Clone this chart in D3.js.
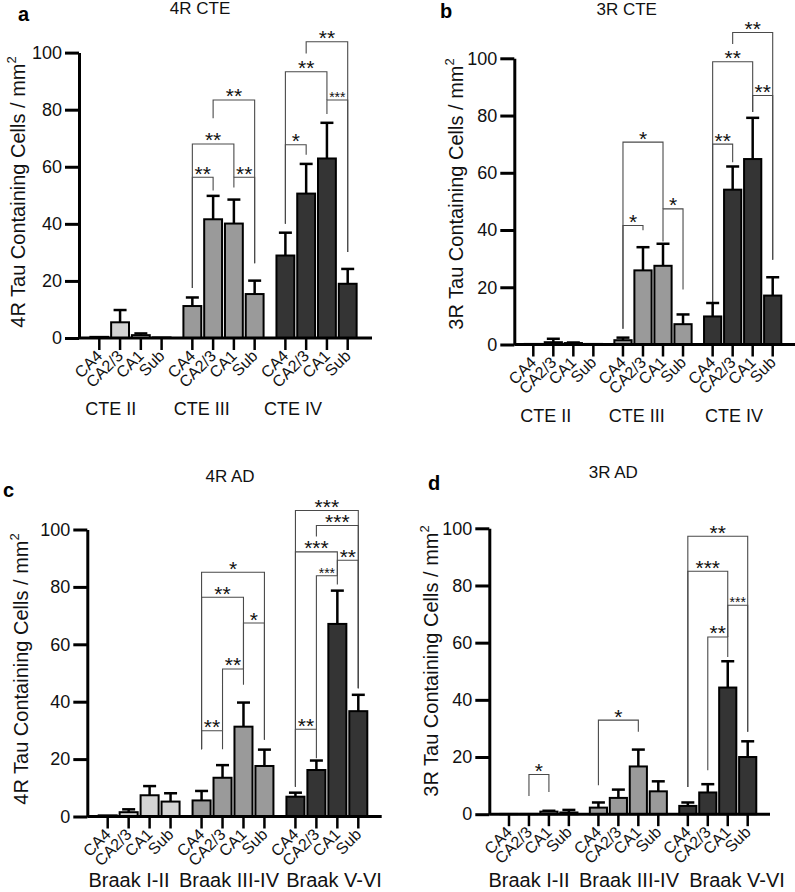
<!DOCTYPE html>
<html>
<head>
<meta charset="utf-8">
<script src="https://cdn.jsdelivr.net/npm/d3@7"></script>
<style>
  html, body { margin: 0; padding: 0; background: #fff; }
  svg { display: block; font-family: "Liberation Sans", Arial, Helvetica, sans-serif; }
</style>
</head>
<body>
<svg id="chart" width="795" height="892"></svg>
<script>
// ---------------- DATA ----------------
const regions = ["CA4", "CA2/3", "CA1", "Sub"];
const cteStages = ["CTE II", "CTE III", "CTE IV"];
const braakStages = ["Braak I-II", "Braak III-IV", "Braak V-VI"];
const yTicks = [0, 20, 40, 60, 80, 100];

// 4R CTE (mean, SEM) per stage x region
const cte4rMean = [[0.4, 5.5, 1.0, 0.2], [11.2, 41.6, 40.1, 15.4], [28.9, 50.6, 62.9, 19.0]];
const cte4rSem  = [[0.0, 4.3, 0.6, 0.0], [3.0, 8.2, 8.4, 4.7], [8.0, 10.4, 12.5, 5.2]];
// 3R CTE
const cte3rMean = [[0.2, 0.8, 0.5, 0.2], [1.5, 25.9, 27.5, 7.1], [9.8, 54.1, 64.8, 17.1]];
const cte3rSem  = [[0.0, 1.2, 0.2, 0.0], [0.9, 8.1, 7.7, 3.4], [4.7, 8.1, 14.4, 6.4]];
// 4R AD
const ad4rMean = [[0.4, 1.5, 7.4, 5.2], [5.6, 13.5, 31.3, 17.6], [6.9, 16.2, 67.1, 36.7]];
const ad4rSem  = [[0.0, 1.0, 3.2, 2.9], [3.3, 4.4, 8.4, 5.7], [1.4, 3.3, 11.6, 5.7]];
// 3R AD
const ad3rMean = [[0.1, 0.1, 0.9, 0.6], [2.3, 5.7, 16.7, 8.0], [2.9, 7.6, 44.3, 20.0]];
const ad3rSem  = [[0.0, 0.0, 0.3, 0.9], [1.8, 2.9, 5.9, 3.5], [1.2, 2.9, 9.2, 5.5]];

// significance brackets: [stage, region1, region2, level, leg1 end, leg2 end, label] (values in cells/mm2)
const cte4rSig = [
  [1, 0, 1, 56.3, 17.5, 51.7, "**"],
  [1, 2, 3, 56.3, 52.7, 26.2, "**"],
  [1, 0, 2, 68.0, 17.5, 56.3, "**"],
  [1, 1, 3, 83.4, 77.0, 26.2, "**"],
  [2, 0, 1, 67.7, 40.0, 64.2, "*"],
  [2, 0, 2, 93.3, 40.0, 83.4, "**"],
  [2, 2, 3, 83.4, 78.5, 30.1, "***"],
  [2, 1, 3, 103.8, 99.7, 30.1, "**"]
];
const cte3rSig = [
  [1, 0, 1, 41.6, 5.5, 39.9, "*"],
  [1, 2, 3, 47.4, 36.0, 19.2, "*"],
  [1, 0, 2, 70.7, 5.5, 47.4, "*"],
  [2, 0, 1, 70.0, 11.0, 63.7, "**"],
  [2, 0, 2, 98.8, 11.0, 81.2, "**"],
  [2, 2, 3, 87.0, 81.2, 29.6, "**"],
  [2, 1, 3, 109.0, 105.0, 29.6, "**"]
];
const ad4rSig = [
  [1, 0, 1, 29.9, 23.4, 23.4, "**"],
  [1, 1, 2, 51.4, 29.9, 45.9, "**"],
  [1, 0, 2, 76.4, 23.4, 51.4, "**"],
  [1, 2, 3, 67.4, 51.4, 26.7, "*"],
  [1, 0, 3, 85.1, 23.4, 26.7, "*"],
  [2, 0, 1, 30.4, 10.4, 20.3, "**"],
  [2, 1, 2, 83.9, 30.4, 80.8, "***"],
  [2, 0, 2, 92.2, 10.4, 83.9, "***"],
  [2, 2, 3, 89.3, 83.9, 44.7, "**"],
  [2, 1, 3, 101.4, 97.6, 44.7, "***"],
  [2, 0, 3, 106.6, 10.4, 44.7, "***"]
];
const ad3rSig = [
  [0, 1, 2, 13.9, 6.4, 7.8, "*"],
  [1, 0, 2, 32.9, 10.1, 28.8, "*"],
  [2, 1, 2, 62.0, 15.4, 55.0, "**"],
  [2, 0, 2, 85.0, 9.5, 62.0, "***"],
  [2, 2, 3, 73.1, 62.0, 28.8, "***"],
  [2, 0, 3, 97.2, 9.5, 28.8, "**"]
];

const stageFills = ["#d3d3d3", "#9a9a9a", "#343434"];

// ---------------- LAYOUT ----------------
const panels = [
  { letter: "a", title: "4R CTE", yLabel: "4R Tau Containing Cells / mm", mean: cte4rMean, sem: cte4rSem, sig: cte4rSig, stages: cteStages,
    axisX: 79, y0: 338, y100: 52.6, xFirst: 99.3, xLast: 347.7, xEnd: 372,
    titleX: 200, titleY: 14, letterX: 18, letterY: 21, yLabX: 25, yLabY: 192,
    stageY: 415, stageX: [110.7, 201.7, 293], stageSize: 18, smallStars: [6] },
  { letter: "b", title: "3R CTE", yLabel: "3R Tau Containing Cells / mm", mean: cte3rMean, sem: cte3rSem, sig: cte3rSig, stages: cteStages,
    axisX: 514.3, y0: 344.5, y100: 58.3, xFirst: 533.3, xLast: 772.7, xEnd: 795,
    titleX: 626.7, titleY: 15, letterX: 440, letterY: 18, yLabX: 463, yLabY: 194,
    stageY: 421.7, stageX: [545.8, 636.7, 734], stageSize: 18, smallStars: [] },
  { letter: "c", title: "4R AD", yLabel: "4R Tau Containing Cells / mm", mean: ad4rMean, sem: ad4rSem, sig: ad4rSig, stages: braakStages,
    axisX: 87.3, y0: 816.5, y100: 529.5, xFirst: 107.7, xLast: 358.3, xEnd: 381.7,
    titleX: 230, titleY: 481.7, letterX: 3, letterY: 497, yLabX: 28, yLabY: 669,
    stageY: 887, stageX: [129, 229, 334], stageSize: 20, smallStars: [6] },
  { letter: "d", title: "3R AD", yLabel: "3R Tau Containing Cells / mm", mean: ad3rMean, sem: ad3rSem, sig: ad3rSig, stages: braakStages,
    axisX: 489.3, y0: 814.2, y100: 528.3, xFirst: 509, xLast: 747.7, xEnd: 770,
    titleX: 613.3, titleY: 478.3, letterX: 428, letterY: 490, yLabX: 438, yLabY: 661,
    stageY: 887, stageX: [529, 629, 737], stageSize: 20, smallStars: [4] }
];

const GAP_SLOTS = 4.48; // slot distance between the starts of consecutive stage groups

const svg = d3.select("#chart");

panels.forEach(p => {
  const g = svg.append("g");
  const y = d3.scaleLinear().domain([0, 100]).range([p.y0, p.y100]);
  const slot = d3.scaleLinear().domain([0, 2 * GAP_SLOTS + 3]).range([p.xFirst, p.xLast]);
  const step = slot(1) - slot(0);
  const bx = (s, r) => slot(s * GAP_SLOTS + r);
  const barW = step * 0.86;

  // flatten
  const rows = [];
  p.mean.forEach((arr, s) => arr.forEach((v, r) => rows.push({ s, r, v, e: p.sem[s][r] })));

  // significance brackets (drawn first, beneath bars)
  p.sig.forEach((b, k) => {
    const [s, r1, r2, lvl, l1, l2, lab] = b;
    const x1 = bx(s, r1), x2 = bx(s, r2);
    g.append("path")
      .attr("d", `M${x1},${y(l1)}V${y(lvl)}H${x2}V${y(l2)}`)
      .attr("fill", "none").attr("stroke", "#4a4a4a").attr("stroke-width", 1.1);
    const small = p.smallStars.includes(k);
    g.append("text")
      .attr("x", (x1 + x2) / 2).attr("y", y(lvl) + (small ? 2 : 3.5))
      .attr("text-anchor", "middle")
      .attr("font-size", small ? 14 : 21)
      .attr("fill", "#111")
      .text(lab);
  });

  // error bars
  g.selectAll(".err").data(rows.filter(d => d.e > 0)).join("g").each(function(d) {
    const x = bx(d.s, d.r);
    const e = d3.select(this);
    e.append("line").attr("x1", x).attr("x2", x).attr("y1", y(d.v)).attr("y2", y(d.v + d.e))
      .attr("stroke", "#000").attr("stroke-width", 2.5);
    e.append("line").attr("x1", x - 6.5).attr("x2", x + 6.5).attr("y1", y(d.v + d.e)).attr("y2", y(d.v + d.e))
      .attr("stroke", "#000").attr("stroke-width", 2.5);
  });

  // bars
  g.selectAll(".bar").data(rows).join("rect")
    .attr("x", d => bx(d.s, d.r) - barW / 2)
    .attr("width", barW)
    .attr("y", d => y(d.v))
    .attr("height", d => Math.max(0, y(0) - y(d.v)))
    .attr("fill", d => stageFills[d.s])
    .attr("stroke", "#000").attr("stroke-width", 2);

  // x axis line and ticks
  g.append("line").attr("x1", p.axisX).attr("x2", p.xEnd).attr("y1", y(0)).attr("y2", y(0))
    .attr("stroke", "#000").attr("stroke-width", 3);
  g.selectAll(".xt").data(rows).join("line")
    .attr("x1", d => bx(d.s, d.r)).attr("x2", d => bx(d.s, d.r))
    .attr("y1", y(0)).attr("y2", y(0) + 12)
    .attr("stroke", "#000").attr("stroke-width", 2.5);
  g.selectAll(".xl").data(rows).join("text")
    .attr("transform", d => `translate(${bx(d.s, d.r) + 4},${y(0) + 19}) rotate(-45)`)
    .attr("text-anchor", "end")
    .attr("font-size", 16)
    .attr("fill", "#111")
    .text(d => regions[d.r]);

  // y axis
  const ya = g.append("g").attr("transform", `translate(${p.axisX},0)`)
    .call(d3.axisLeft(y).tickValues(yTicks).tickSize(14).tickSizeOuter(0).tickPadding(3));
  ya.select(".domain").attr("stroke-width", 3).attr("stroke", "#000");
  ya.selectAll(".tick line").attr("stroke-width", 3).attr("stroke", "#000");
  ya.selectAll(".tick text").attr("font-size", 18).attr("fill", "#111")
    .attr("font-family", "'Liberation Sans', Arial, sans-serif");

  // y label
  const yl = g.append("text")
    .attr("transform", `translate(${p.yLabX},${p.yLabY}) rotate(-90)`)
    .attr("text-anchor", "middle")
    .attr("font-size", 20).attr("fill", "#111");
  yl.append("tspan").text(p.yLabel);
  yl.append("tspan").attr("font-size", 13).attr("dy", -9).text("2");

  // stage labels
  g.selectAll(".st").data(p.stages).join("text")
    .attr("x", (d, i) => p.stageX[i]).attr("y", p.stageY)
    .attr("text-anchor", "middle")
    .attr("font-size", p.stageSize).attr("fill", "#111")
    .text(d => d);

  // title and panel letter
  g.append("text").attr("x", p.titleX).attr("y", p.titleY).attr("text-anchor", "middle")
    .attr("font-size", 17).attr("fill", "#111").text(p.title);
  g.append("text").attr("x", p.letterX).attr("y", p.letterY)
    .attr("font-size", 20).attr("font-weight", "bold").attr("fill", "#000").text(p.letter);
});
</script>
</body>
</html>
